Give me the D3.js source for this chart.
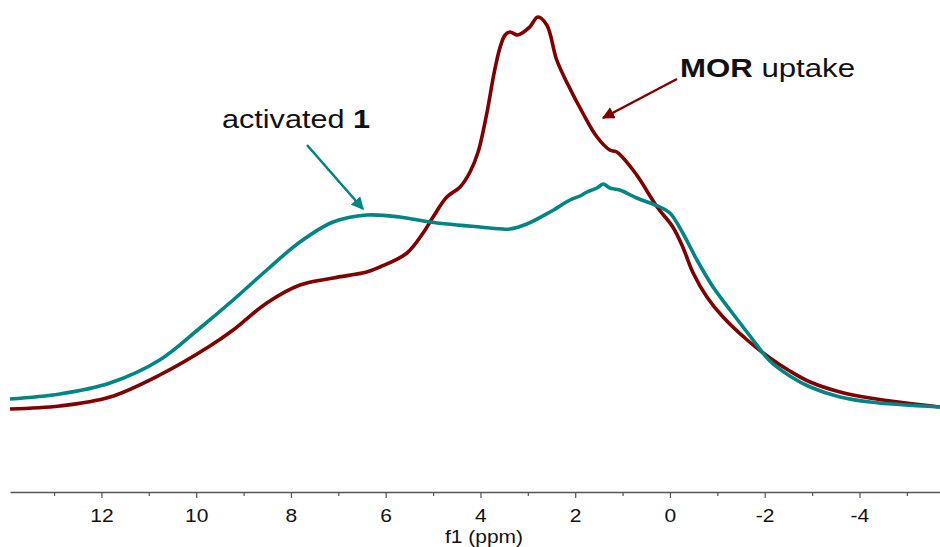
<!DOCTYPE html>
<html><head><meta charset="utf-8">
<script src="https://cdn.jsdelivr.net/npm/d3@7"></script>
<style>html,body{margin:0;padding:0;background:#fff;}svg{display:block;}</style>
</head><body>
<svg id="chart" width="940" height="547"></svg>
<script>
// chemical shift (ppm) and intensity (arbitrary units)
const morPpm = [13.93,12.88,11.82,10.77,9.71,9.22,8.51,7.81,7.11,6.40,6.12,5.55,5.21,5.00,4.71,4.43,4.22,4.05,3.86,3.72,3.59,3.48,3.38,3.21,2.96,2.79,2.60,2.39,2.17,1.84,1.54,1.27,1.12,0.78,0.63,0.27,-0.06,-0.27,-0.49,-0.78,-1.12,-1.63,-2.11,-2.53,-2.96,-3.59,-4.22,-5.70];
const morInt = [2.75,3.5,5.75,11.25,18.5,22.5,29.25,33.75,35.5,37,38.25,41.75,46.75,50.75,55.75,58.25,62,67,77,86.25,93,96.25,97,96.25,98.25,100.75,98.75,90,84.25,76.75,70.75,67.5,67,62.5,60,53.25,48.25,43.25,36.75,30.75,25.75,20,15.5,12.25,9.5,7,5.5,3.25];
const actPpm = [13.93,12.88,11.82,10.77,9.92,9.22,8.51,7.81,7.11,6.40,5.70,5.07,4.01,3.38,3.02,2.53,2.11,1.90,1.75,1.54,1.41,1.27,1.06,0.70,0.21,0.00,-0.27,-0.57,-0.91,-1.27,-1.69,-2.11,-2.53,-2.96,-3.59,-4.22,-5.70];
const actInt = [5.25,6.5,9.25,15,23,30,37.5,44.5,49.5,51.25,50.75,49.5,48.25,47.75,49,52,55,56,57,58,59,58,57.5,55.5,53.25,51.75,46.75,40,33.25,27.5,21,14.75,11,8.25,5.75,4.5,3.25];
const majorTicks = [12,10,8,6,4,2,0,-2,-4];
const minorTicks = [13,11,9,7,5,3,1,-1,-3,-5];
const axisTitle = "f1 (ppm)";

const svg = d3.select("#chart");
const x = d3.scaleLinear().domain([13.93,-5.70]).range([10,940]);
const y = d3.scaleLinear().domain([0,100]).range([420,20]);
const axisY = 492;
const SX = 1.2;
const FONT = "Liberation Sans, Arial, sans-serif";

// axis
const gMinor = svg.append("g").attr("transform",`translate(0,${axisY})`)
  .call(d3.axisBottom(x).tickValues(minorTicks).tickSize(4).tickSizeOuter(0).tickFormat(""));
gMinor.select(".domain").remove();
gMinor.selectAll("line").attr("stroke","#555").attr("stroke-width",1.2);
const gMajor = svg.append("g").attr("transform",`translate(0,${axisY})`)
  .call(d3.axisBottom(x).tickValues(majorTicks).tickSize(6).tickSizeOuter(0).tickFormat(d3.format("d")));
gMajor.select(".domain").attr("stroke","#555").attr("stroke-width",1.5);
gMajor.selectAll("line").attr("stroke","#555").attr("stroke-width",1.2);
gMajor.selectAll("text").attr("font-family",FONT)
  .attr("font-size",17.5).attr("fill","#111").attr("y",0).attr("dy",0)
  .attr("transform",`translate(0,29.5) scale(${SX},1)`)
  .text(d => d < 0 ? "-" + Math.abs(d) : d);

svg.append("text").attr("font-family",FONT).attr("font-size",17.5)
  .attr("fill","#111").attr("text-anchor","middle")
  .attr("transform",`translate(484,543) scale(${SX},1)`).text(axisTitle);

// curves
const line = d3.line().x(d=>x(d[0])).y(d=>y(d[1])).curve(d3.curveCatmullRom.alpha(0.5));
const morData = morPpm.map((p,i)=>[p,morInt[i]]);
const actData = actPpm.map((p,i)=>[p,actInt[i]]);
svg.append("path").attr("d",line(morData)).attr("fill","none").attr("stroke","#800000")
  .attr("stroke-width",3.6).attr("stroke-linejoin","round");
svg.append("path").attr("d",line(actData)).attr("fill","none").attr("stroke","#008585")
  .attr("stroke-width",3.6).attr("stroke-linejoin","round");

// arrows
const defs = svg.append("defs");
function marker(id,color){
  defs.append("marker").attr("id",id).attr("viewBox","0 0 10 10").attr("refX",9).attr("refY",5)
    .attr("markerWidth",5).attr("markerHeight",5).attr("markerUnits","strokeWidth").attr("orient","auto")
    .append("path").attr("d","M0,0 L10,5 L0,10 z").attr("fill",color);
}
marker("mT","#008585"); marker("mR","#800000");
svg.append("line").attr("x1",307).attr("y1",145).attr("x2",363).attr("y2",209)
  .attr("stroke","#008585").attr("stroke-width",2.5).attr("marker-end","url(#mT)");
svg.append("line").attr("x1",677).attr("y1",79).attr("x2",603).attr("y2",118)
  .attr("stroke","#800000").attr("stroke-width",2.5).attr("marker-end","url(#mR)");

// labels
const t1 = svg.append("text").attr("font-family",FONT).attr("font-size",25.5)
  .attr("fill","#111").attr("transform",`translate(222,128) scale(${SX},1)`);
t1.append("tspan").text("activated ");
t1.append("tspan").attr("font-weight","bold").text("1");
const t2 = svg.append("text").attr("font-family",FONT).attr("font-size",26)
  .attr("fill","#111").attr("transform",`translate(680,77) scale(${SX},1)`);
t2.append("tspan").attr("font-weight","bold").text("MOR");
t2.append("tspan").text(" uptake");
</script>
</body></html>
